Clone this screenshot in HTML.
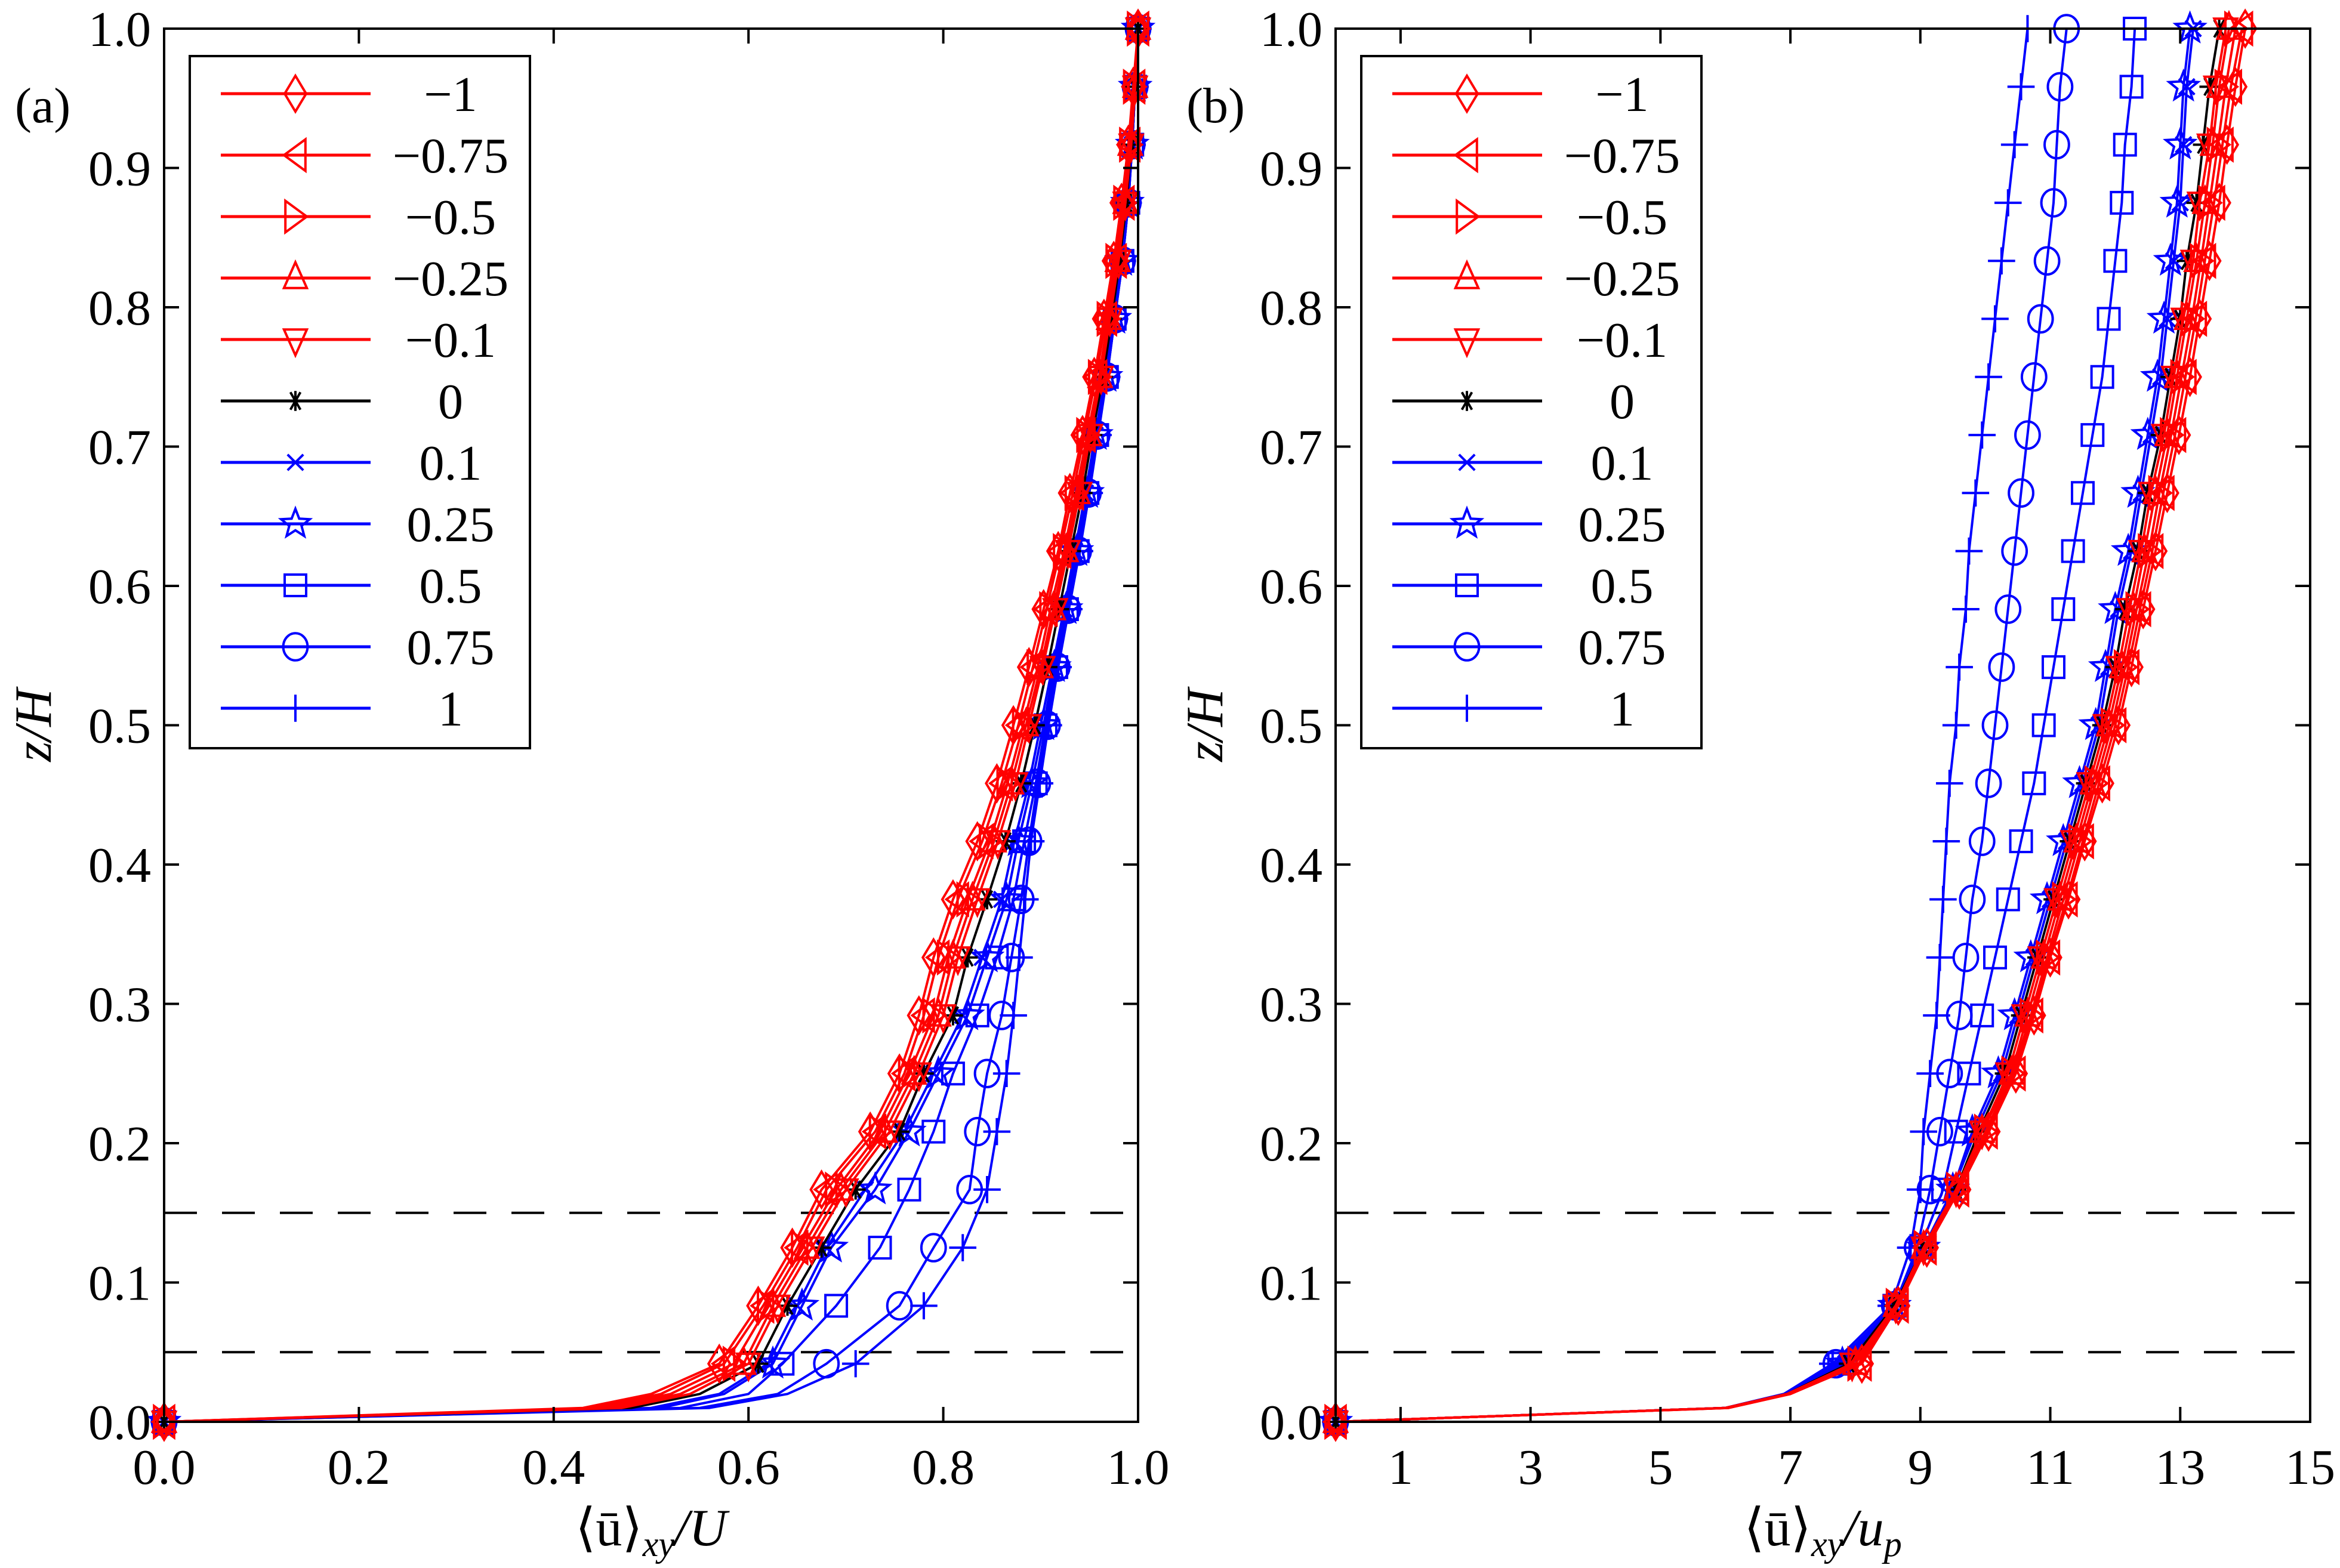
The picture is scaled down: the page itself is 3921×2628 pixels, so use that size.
<!DOCTYPE html>
<html><head><meta charset="utf-8"><style>
html,body{margin:0;padding:0;background:#fff;}
svg{display:block;font-family:"Liberation Serif",serif;}
</style></head><body>
<svg id="chart" width="3921" height="2628" viewBox="0 0 3921 2628" xmlns="http://www.w3.org/2000/svg"></svg>
<script>
const zLevels=[0,0.01,0.02,0.0417,0.0833,0.125,0.1667,0.2083,0.25,0.2917,0.3333,0.375,0.4167,0.4583,0.5,0.5417,0.5833,0.625,0.6667,0.7083,0.75,0.7917,0.8333,0.875,0.9167,0.9583,1];
const seriesLabels=["−1","−0.75","−0.5","−0.25","−0.1","0","0.1","0.25","0.5","0.75","1"];
const seriesColors=["#f00","#f00","#f00","#f00","#f00","#000","#00f","#00f","#00f","#00f","#00f"];
const seriesMarkers=["diamond","tri-left","tri-right","tri-up","tri-down","asterisk","x","star","square","circle","plus"];
// Panel (a): <u>/U
const aM1=[0,0.43,0.50,0.57,0.61,0.645,0.675,0.725,0.755,0.775,0.79,0.81,0.835,0.855,0.872,0.888,0.903,0.918,0.93,0.943,0.955,0.965,0.975,0.983,0.99,0.995,1];
const aM075=[0,0.44,0.51,0.575,0.615,0.65,0.68,0.73,0.76,0.78,0.795,0.815,0.84,0.86,0.877,0.892,0.906,0.92,0.933,0.945,0.957,0.967,0.977,0.985,0.991,0.996,1];
const aM05=[0,0.45,0.52,0.585,0.62,0.655,0.69,0.735,0.765,0.79,0.805,0.825,0.848,0.866,0.882,0.897,0.91,0.924,0.936,0.948,0.96,0.969,0.978,0.986,0.992,0.996,1];
const aM025=[0,0.46,0.53,0.595,0.625,0.66,0.695,0.74,0.77,0.795,0.81,0.83,0.852,0.87,0.885,0.9,0.913,0.926,0.938,0.95,0.961,0.97,0.979,0.987,0.992,0.997,1];
const aM01=[0,0.47,0.54,0.60,0.63,0.665,0.70,0.745,0.775,0.80,0.815,0.835,0.856,0.874,0.888,0.902,0.915,0.928,0.94,0.951,0.962,0.971,0.98,0.987,0.993,0.997,1];
const aZ=[0,0.48,0.55,0.61,0.64,0.675,0.71,0.755,0.78,0.81,0.825,0.845,0.864,0.88,0.894,0.907,0.919,0.931,0.943,0.953,0.964,0.973,0.981,0.988,0.993,0.997,1];
const aP01=[0,0.50,0.57,0.62,0.65,0.68,0.72,0.76,0.79,0.82,0.84,0.86,0.873,0.888,0.9,0.912,0.924,0.935,0.946,0.956,0.966,0.975,0.983,0.989,0.994,0.997,1];
const aP025=[0,0.51,0.575,0.625,0.655,0.685,0.73,0.765,0.795,0.825,0.845,0.865,0.877,0.891,0.903,0.914,0.926,0.937,0.948,0.957,0.967,0.976,0.983,0.989,0.994,0.997,1];
const aP05=[0,0.53,0.60,0.635,0.69,0.735,0.765,0.79,0.81,0.835,0.855,0.872,0.883,0.895,0.905,0.916,0.927,0.938,0.948,0.958,0.968,0.976,0.984,0.99,0.994,0.997,1];
const aP075=[0,0.55,0.63,0.68,0.755,0.79,0.827,0.835,0.845,0.86,0.87,0.88,0.888,0.897,0.907,0.917,0.928,0.939,0.949,0.958,0.968,0.976,0.984,0.99,0.994,0.997,1];
const aP1=[0,0.56,0.64,0.71,0.78,0.82,0.845,0.855,0.865,0.872,0.878,0.884,0.89,0.899,0.908,0.918,0.929,0.94,0.95,0.959,0.968,0.976,0.984,0.99,0.994,0.997,1];
// Panel (b): <u>/u_p
const bM1=[0,6.05,7.0,8.1,8.66,9.1,9.6,10.05,10.47,10.75,11.0,11.28,11.53,11.8,12.05,12.25,12.43,12.62,12.8,12.98,13.15,13.3,13.45,13.6,13.72,13.85,14.0];
const bM075=[0,6.05,7.0,8.08,8.65,9.08,9.58,10.02,10.45,10.72,10.98,11.25,11.5,11.75,12.0,12.2,12.38,12.57,12.74,12.92,13.08,13.24,13.38,13.52,13.65,13.78,13.95];
const bM05=[0,6.0,7.0,8.05,8.64,9.07,9.57,10.0,10.42,10.7,10.95,11.2,11.45,11.7,11.95,12.15,12.33,12.52,12.68,12.86,13.02,13.18,13.32,13.45,13.58,13.7,13.85];
const bM025=[0,6.0,6.95,8.0,8.62,9.05,9.55,9.95,10.4,10.65,10.9,11.15,11.4,11.65,11.9,12.1,12.28,12.45,12.62,12.8,12.95,13.1,13.25,13.38,13.5,13.6,13.75];
const bM01=[0,6.0,6.95,7.95,8.62,9.05,9.55,9.95,10.35,10.6,10.85,11.1,11.35,11.6,11.85,12.05,12.22,12.4,12.55,12.75,12.9,13.05,13.2,13.3,13.45,13.55,13.7];
const bZ=[0,6.0,6.95,7.9,8.6,9.05,9.55,9.9,10.3,10.55,10.8,11.05,11.3,11.55,11.8,12.0,12.15,12.35,12.5,12.7,12.85,13.0,13.1,13.25,13.35,13.45,13.6];
const bP01=[0,6.0,6.95,7.85,8.6,9.05,9.5,9.85,10.25,10.5,10.75,11.0,11.25,11.5,11.75,11.9,12.05,12.25,12.4,12.55,12.7,12.8,12.9,13.0,13.05,13.1,13.2];
const bP025=[0,6.0,6.95,7.8,8.6,9.05,9.5,9.8,10.2,10.45,10.7,10.95,11.2,11.45,11.7,11.85,12.0,12.2,12.35,12.5,12.65,12.75,12.85,12.95,13.0,13.05,13.15];
const bP05=[0,6.0,6.9,7.75,8.6,9.0,9.35,9.55,9.75,9.95,10.15,10.35,10.55,10.75,10.9,11.05,11.2,11.35,11.5,11.65,11.8,11.9,12.0,12.1,12.15,12.25,12.3];
const bP075=[0,6.0,6.9,7.7,8.6,8.95,9.15,9.3,9.45,9.6,9.7,9.8,9.95,10.05,10.15,10.25,10.35,10.45,10.55,10.65,10.75,10.85,10.95,11.05,11.1,11.15,11.25];
const bP1=[0,6.0,6.9,7.65,8.55,8.85,9.0,9.05,9.15,9.25,9.3,9.35,9.4,9.45,9.55,9.6,9.7,9.75,9.85,9.95,10.05,10.15,10.25,10.35,10.45,10.55,10.65];
const xTicksA=[0,0.2,0.4,0.6,0.8,1.0];
const xTickLabelsA=["0.0","0.2","0.4","0.6","0.8","1.0"];
const xTicksB=[1,3,5,7,9,11,13,15];
const xTickLabelsB=["1","3","5","7","9","11","13","15"];
const yTicks=[0,0.1,0.2,0.3,0.4,0.5,0.6,0.7,0.8,0.9,1.0];
const yTickLabels=["0.0","0.1","0.2","0.3","0.4","0.5","0.6","0.7","0.8","0.9","1.0"];
const dashLevels=[0.05,0.15];

const NS="http://www.w3.org/2000/svg";
const svg=document.getElementById('chart');
function mk(tag,attrs,parent){const e=document.createElementNS(NS,tag);for(const k in attrs)e.setAttribute(k,attrs[k]);(parent||svg).appendChild(e);return e;}

const R=24;
function drawMarker(g,type,x,y,color){
  const sw=4;let e;
  const P=(pts)=>mk('polygon',{points:pts.map(p=>p.join(',')).join(' '),fill:'none',stroke:color,'stroke-width':sw},g);
  const L=(d)=>mk('path',{d:d,fill:'none',stroke:color,'stroke-width':sw},g);
  switch(type){
    case 'diamond':e=P([[x,y-R*1.25],[x+R*0.75,y],[x,y+R*1.25],[x-R*0.75,y]]);break;
    case 'tri-left':e=P([[x-R*0.8,y],[x+R*0.7,y-R*1.1],[x+R*0.7,y+R*1.1]]);break;
    case 'tri-right':e=P([[x+R*0.8,y],[x-R*0.7,y-R*1.1],[x-R*0.7,y+R*1.1]]);break;
    case 'tri-up':e=P([[x,y-R*1.1],[x+R*0.8,y+R*0.7],[x-R*0.8,y+R*0.7]]);break;
    case 'tri-down':e=P([[x,y+R*1.1],[x+R*0.8,y-R*0.7],[x-R*0.8,y-R*0.7]]);break;
    case 'asterisk':{const r=R*0.7;e=L(`M${x-r},${y}H${x+r}M${x-r*0.5},${y-r*0.87}L${x+r*0.5},${y+r*0.87}M${x-r*0.5},${y+r*0.87}L${x+r*0.5},${y-r*0.87}M${x},${y-r}V${y+r}`);break;}
    case 'x':{const r=R*0.55;e=L(`M${x-r},${y-r}L${x+r},${y+r}M${x-r},${y+r}L${x+r},${y-r}`);break;}
    case 'star':{const pts=[];for(let i=0;i<10;i++){const a=-Math.PI/2+i*Math.PI/5;const rr=i%2?R*0.45:R*1.05;pts.push([x+rr*Math.cos(a),y+rr*Math.sin(a)]);}e=P(pts);break;}
    case 'square':e=mk('rect',{x:x-R*0.75,y:y-R*0.75,width:R*1.5,height:R*1.5,fill:'none',stroke:color,'stroke-width':sw},g);break;
    case 'circle':e=mk('ellipse',{cx:x,cy:y,rx:R*0.85,ry:R*0.95,fill:'none',stroke:color,'stroke-width':sw},g);break;
    case 'plus':{const r=R*0.95;e=L(`M${x-r},${y}H${x+r}M${x},${y-r}V${y+r}`);break;}
  }
  return e;
}

function panel(opts){
  const {x0,x1,y0,y1,xmin,xmax,data,xt,xtl,name,letter,xlabelMain,xlabelSub,legendX}=opts;
  const g=mk('g',{});
  
  
  const sx=v=>x0+(v-xmin)/(xmax-xmin)*(x1-x0);
  const sy=v=>y1-v*(y1-y0);
  // dashed lines
  dashLevels.forEach(d=>{
    const l=mk('line',{x1:x0,x2:x1,y1:sy(d),y2:sy(d),stroke:'#000','stroke-width':4,'stroke-dasharray':'55,42'},g);
    
    
  });
  // series: blue first, then black, then red
  const order=[10,9,8,7,6,5,4,3,2,1,0];
  order.forEach(i=>{
    const sg=mk('g',{},g);
    
    
    const vals=data[i];
    const pts=vals.map((v,k)=>sx(v).toFixed(1)+','+sy(zLevels[k]).toFixed(1)).join(' ');
    mk('polyline',{points:pts,fill:'none',stroke:seriesColors[i],'stroke-width':4,'stroke-linejoin':'round'},sg);
    vals.forEach((v,k)=>{ if(k===1||k===2) return; drawMarker(sg,seriesMarkers[i],sx(v),sy(zLevels[k]),seriesColors[i]); });
  });
  // frame
  const fr=mk('rect',{x:x0,y:y0,width:x1-x0,height:y1-y0,fill:'none',stroke:'#000','stroke-width':4},g);
  
  
  // ticks
  const tl=25;
  xt.forEach((v,i)=>{
    const x=sx(v);
    mk('line',{x1:x,x2:x,y1:y1,y2:y1-tl,stroke:'#000','stroke-width':4},g);
    mk('line',{x1:x,x2:x,y1:y0,y2:y0+tl,stroke:'#000','stroke-width':4},g);
    const t=mk('text',{x:x,y:2487,'font-size':84,'text-anchor':'middle'},g);
    t.textContent=xtl[i];
    
    
  });
  yTicks.forEach((v,i)=>{
    const y=sy(v);
    mk('line',{x1:x0,x2:x0+tl,y1:y,y2:y,stroke:'#000','stroke-width':4},g);
    mk('line',{x1:x1,x2:x1-tl,y1:y,y2:y,stroke:'#000','stroke-width':4},g);
    const t=mk('text',{x:x0-22,y:y+29,'font-size':84,'text-anchor':'end'},g);
    t.textContent=yTickLabels[i];
    
    
  });
  // y label
  const yl=mk('text',{x:0,y:0,'font-size':88,'text-anchor':'middle','font-style':'italic',transform:`translate(${x0-190},${(y0+y1)/2}) rotate(-90)`},g);
  yl.textContent='z/H';
  
  
  // x label
  const xl=mk('text',{x:(x0+x1)/2,y:2590,'font-size':88,'text-anchor':'middle'},g);
  
  
  const a=mk('tspan',{},xl);a.textContent='⟨ū⟩';
  const b=mk('tspan',{'font-size':60,dy:18,'font-style':'italic'},xl);b.textContent='xy';
  const c=mk('tspan',{dy:-18,'font-style':'italic'},xl);c.textContent='/'+xlabelMain;
  if(xlabelSub){const d=mk('tspan',{'font-size':60,dy:18,'font-style':'italic'},xl);d.textContent=xlabelSub;}
  // panel letter
  const lt=mk('text',{x:x0-250,y:205,'font-size':84},g);
  lt.textContent=letter;
  
  
  // legend
  const lg=mk('g',{},g);
  
  
  mk('rect',{x:legendX,y:94,width:570,height:1160,fill:'#fff',stroke:'#000','stroke-width':4},lg);
  seriesLabels.forEach((lab,i)=>{
    const y=157+i*103;
    const e=mk('g',{},lg);
    
    
    mk('line',{x1:legendX+52,x2:legendX+303,y1:y,y2:y,stroke:seriesColors[i],'stroke-width':5},e);
    drawMarker(e,seriesMarkers[i],legendX+177,y,seriesColors[i]);
    const t=mk('text',{x:legendX+437,y:y+29,'font-size':84,'text-anchor':'middle'},e);
    t.textContent=lab;
  });
}

panel({x0:275,x1:1907,y0:48,y1:2383,xmin:0,xmax:1,data:[aM1,aM075,aM05,aM025,aM01,aZ,aP01,aP025,aP05,aP075,aP1],xt:xTicksA,xtl:xTickLabelsA,name:'panel-a',letter:'(a)',xlabelMain:'U',xlabelSub:'',legendX:318});
panel({x0:2238,x1:3871,y0:48,y1:2383,xmin:0,xmax:15,data:[bM1,bM075,bM05,bM025,bM01,bZ,bP01,bP025,bP05,bP075,bP1],xt:xTicksB,xtl:xTickLabelsB,name:'panel-b',letter:'(b)',xlabelMain:'u',xlabelSub:'p',legendX:2281});
</script>
</body></html>
